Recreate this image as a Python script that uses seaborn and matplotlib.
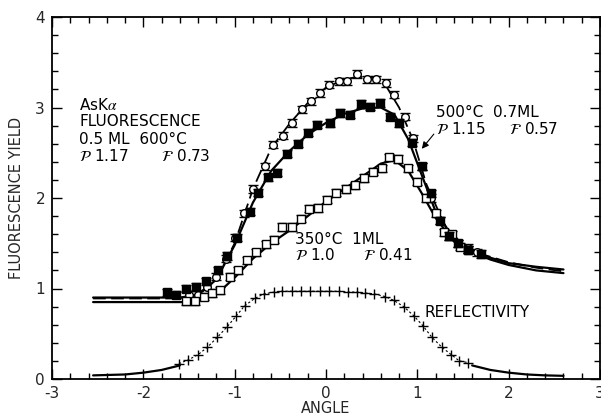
import numpy as np
import matplotlib
matplotlib.use("Agg")
import matplotlib.pyplot as plt
import seaborn as sns

# measured points, 0.5 ML 600C (open circles)
ang_600 = [-1.50, -1.40, -1.30, -1.20, -1.10, -1.00, -0.90, -0.80, -0.67, -0.58, -0.47, -0.37, -0.26, -0.16,
           -0.07, 0.03, 0.14, 0.23, 0.34, 0.45, 0.55, 0.66, 0.75, 0.86, 0.95, 1.05, 1.15, 1.25, 1.35, 1.45, 1.55, 1.65]
yld_600 = [0.93, 0.93, 1.02, 1.13, 1.33, 1.56, 1.83, 2.10, 2.35, 2.59, 2.69, 2.83, 2.98, 3.07,
           3.16, 3.25, 3.29, 3.29, 3.37, 3.31, 3.31, 3.27, 3.14, 2.90, 2.66, 2.35, 2.00, 1.75, 1.58, 1.50, 1.45, 1.40]

# 500C 0.7 ML (filled squares)
ang_500 = [-1.74, -1.64, -1.53, -1.42, -1.31, -1.18, -1.08, -0.97, -0.83, -0.74, -0.64, -0.54, -0.43, -0.31,
           -0.20, -0.10, 0.04, 0.15, 0.26, 0.38, 0.48, 0.59, 0.70, 0.80, 0.94, 1.05, 1.15, 1.25, 1.35, 1.45, 1.55, 1.70]
yld_500 = [0.96, 0.93, 1.00, 1.02, 1.08, 1.20, 1.36, 1.56, 1.85, 2.06, 2.23, 2.28, 2.49, 2.60,
           2.72, 2.81, 2.83, 2.94, 2.92, 3.04, 3.01, 3.05, 2.90, 2.83, 2.61, 2.35, 2.05, 1.75, 1.58, 1.50, 1.43, 1.38]

# 350C 1 ML (open squares)
ang_350 = [-1.53, -1.43, -1.34, -1.25, -1.16, -1.05, -0.96, -0.87, -0.77, -0.66, -0.57, -0.48, -0.37, -0.27,
           -0.19, -0.09, 0.01, 0.11, 0.22, 0.32, 0.42, 0.51, 0.61, 0.69, 0.79, 0.90, 1.00, 1.09, 1.20, 1.29,
           1.38, 1.47, 1.56]
yld_350 = [0.86, 0.86, 0.91, 0.95, 0.98, 1.13, 1.20, 1.31, 1.40, 1.49, 1.54, 1.68, 1.68, 1.77,
           1.88, 1.89, 1.98, 2.06, 2.10, 2.14, 2.22, 2.29, 2.33, 2.45, 2.43, 2.33, 2.18, 2.00, 1.83, 1.62,
           1.60, 1.46, 1.43]

# fitted curves
fit_ang_600 = [-2.55, -1.60, -1.40, -1.20, -1.00, -0.80, -0.60, -0.40, -0.20, 0.00, 0.20, 0.35, 0.50, 0.65,
               0.80, 0.95, 1.10, 1.30, 1.50, 1.70, 2.00, 2.30, 2.60]
fit_yld_600 = [0.89, 0.89, 0.94, 1.10, 1.50, 2.10, 2.55, 2.82, 3.05, 3.22, 3.31, 3.34, 3.33, 3.25,
               3.00, 2.65, 2.15, 1.70, 1.48, 1.38, 1.29, 1.23, 1.19]
fit_ang_500 = [-2.55, -1.60, -1.40, -1.20, -1.00, -0.80, -0.60, -0.40, -0.20, 0.00, 0.20, 0.40, 0.60, 0.75,
               0.90, 1.05, 1.20, 1.40, 1.60, 1.80, 2.00, 2.30, 2.60]
fit_yld_500 = [0.90, 0.90, 0.93, 1.10, 1.48, 1.95, 2.30, 2.52, 2.70, 2.83, 2.93, 2.99, 3.00, 2.92,
               2.65, 2.25, 1.85, 1.55, 1.42, 1.34, 1.28, 1.24, 1.21]
fit_ang_350 = [-2.55, -1.55, -1.30, -1.15, -1.00, -0.80, -0.60, -0.40, -0.20, 0.00, 0.20, 0.40, 0.60, 0.75,
               0.90, 1.05, 1.20, 1.40, 1.60, 1.80, 2.00, 2.30, 2.60]
fit_yld_350 = [0.85, 0.85, 0.90, 0.98, 1.12, 1.33, 1.50, 1.64, 1.80, 1.96, 2.10, 2.24, 2.38, 2.42,
               2.30, 2.05, 1.78, 1.52, 1.40, 1.32, 1.26, 1.20, 1.17]

# reflectivity
refl_ang = [-1.61, -1.51, -1.40, -1.30, -1.19, -1.08, -0.98, -0.89, -0.78, -0.68, -0.57, -0.48, -0.37, -0.27,
            -0.17, -0.07, 0.03, 0.14, 0.24, 0.34, 0.43, 0.53, 0.65, 0.74, 0.85, 0.96, 1.06, 1.16, 1.27, 1.37,
            1.46, 1.56]
refl_val = [0.17, 0.21, 0.27, 0.35, 0.46, 0.58, 0.70, 0.81, 0.89, 0.94, 0.96, 0.97, 0.97, 0.97,
            0.97, 0.97, 0.97, 0.97, 0.96, 0.96, 0.95, 0.94, 0.91, 0.87, 0.80, 0.70, 0.59, 0.46, 0.35, 0.27,
            0.20, 0.18]
refl_tail_l_ang = [-2.55, -2.20, -2.00, -1.80, -1.60]
refl_tail_l_val = [0.04, 0.05, 0.07, 0.10, 0.15]
refl_tail_r_ang = [1.60, 1.80, 2.00, 2.20, 2.40, 2.60]
refl_tail_r_val = [0.15, 0.10, 0.07, 0.05, 0.04, 0.035]

err = 0.04

sns.set_style("ticks")
plt.rcParams["font.family"] = ["DejaVu Sans"]
plt.rcParams["mathtext.fontset"] = "stix"

fig = plt.figure(figsize=(6.01, 4.17), dpi=100)
ax = fig.add_axes([52 / 601, 38 / 417, 548 / 601, 362 / 417])

# fit curves
sns.lineplot(x=fit_ang_600, y=fit_yld_600, ax=ax, color="k", lw=1.3, sort=False, estimator=None,
             linestyle=(0, (7, 3)))
sns.lineplot(x=fit_ang_500, y=fit_yld_500, ax=ax, color="k", lw=1.6, sort=False, estimator=None)
sns.lineplot(x=fit_ang_350, y=fit_yld_350, ax=ax, color="k", lw=1.6, sort=False, estimator=None)

# reflectivity
sns.lineplot(x=refl_tail_l_ang, y=refl_tail_l_val, ax=ax, color="k", lw=1.6, sort=False, estimator=None)
sns.lineplot(x=refl_tail_r_ang, y=refl_tail_r_val, ax=ax, color="k", lw=1.6, sort=False, estimator=None)
ax.plot(refl_ang, refl_val, color="k", lw=0.8, ls=(0, (2, 2)), marker="+", ms=7, mew=1.0)

# data with error bars
ax.errorbar(ang_600, yld_600, yerr=err, fmt="o", ms=5.5, mfc="white", mec="k", mew=1.0,
            ecolor="k", elinewidth=1.0, capsize=3.5, capthick=1.3, zorder=4)
ax.errorbar(ang_500, yld_500, yerr=err, fmt="s", ms=5.5, mfc="k", mec="k", mew=1.0,
            ecolor="k", elinewidth=1.0, capsize=3.5, capthick=1.3, zorder=5)
ax.errorbar(ang_350, yld_350, yerr=err, fmt="s", ms=6, mfc="white", mec="k", mew=1.0,
            ecolor="k", elinewidth=1.0, capsize=3.5, capthick=1.3, zorder=4)

ax.set_xlim(-3, 3)
ax.set_ylim(0, 4)
ax.set_xticks([-3, -2, -1, 0, 1, 2, 3])
ax.set_xticklabels(["-3", "-2", "-1", "0", "1", "2", "3"])
ax.set_yticks([0, 1, 2, 3, 4])
ax.set_xticks(np.arange(-3, 3.01, 0.2), minor=True)
ax.set_yticks(np.arange(0, 4.01, 0.2), minor=True)
ax.tick_params(which="both", direction="in", top=True, right=True, color="k", width=1.0)
ax.tick_params(which="major", length=7, labelsize=11, pad=5)
ax.tick_params(which="minor", length=4)
for s in ax.spines.values():
    s.set_linewidth(1.3)
    s.set_color("k")

ax.set_xlabel("ANGLE", fontsize=10.5, labelpad=0)
ax.set_ylabel("FLUORESCENCE YIELD", fontsize=10.5, labelpad=8)

tkw = dict(fontsize=11, color="k", va="center", ha="left")
ax.text(-2.70, 3.03, "AsK$\\alpha$", **tkw)
ax.text(-2.70, 2.84, "FLUORESCENCE", **tkw)
ax.text(-2.70, 2.65, "0.5 ML  600°C", **tkw)
ax.text(-2.70, 2.46, "$\\mathcal{P}$ 1.17       $\\mathcal{F}$ 0.73", **tkw)

ax.text(1.20, 2.95, "500°C  0.7ML", **tkw)
ax.text(1.20, 2.76, "$\\mathcal{P}$ 1.15     $\\mathcal{F}$ 0.57", **tkw)
ax.annotate("", xy=(1.03, 2.52), xytext=(1.20, 2.73),
            arrowprops=dict(arrowstyle="-|>", color="k", lw=0.8, mutation_scale=10))

ax.text(-0.34, 1.54, "350°C  1ML", **tkw)
ax.text(-0.34, 1.37, "$\\mathcal{P}$ 1.0      $\\mathcal{F}$ 0.41", **tkw)

ax.text(1.08, 0.73, "REFLECTIVITY", **tkw)

fig.savefig("out.png", dpi=100)
